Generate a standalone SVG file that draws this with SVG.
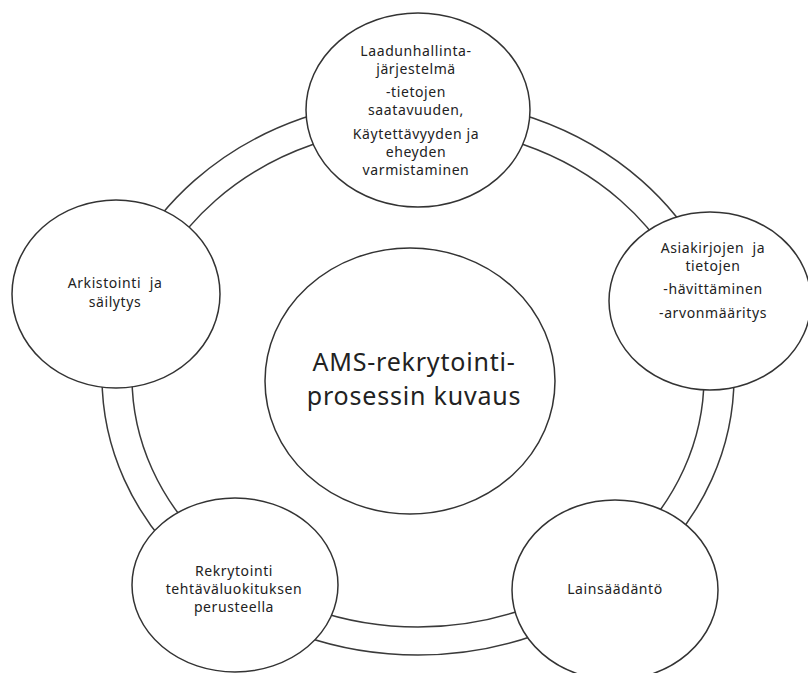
<svg xmlns="http://www.w3.org/2000/svg" width="808" height="673" viewBox="0 0 808 673">
  <style>
    .ring { fill: none; stroke: #3a3a3a; stroke-width: 1.5; }
    .node { fill: #ffffff; stroke: #333333; stroke-width: 1.5; }
    .lbl { font-family: "Noto Sans", "Open Sans", sans-serif; font-size: 14px; letter-spacing: 0.6px; fill: #222222; text-anchor: middle; white-space: pre; }
    .title { font-family: "Noto Sans", "Open Sans", sans-serif; font-size: 25px; letter-spacing: 0.8px; fill: #222222; text-anchor: middle; }
  </style>
  <rect width="808" height="673" fill="#ffffff"/>

  <!-- double ring linking the surrounding topics -->
  <g id="connectors">
    <ellipse class="ring" cx="418" cy="377" rx="316" ry="278"/>
    <ellipse class="ring" cx="418" cy="377" rx="286" ry="250"/>
  </g>

  <g id="node-center">
    <ellipse class="node" cx="410" cy="381" rx="145" ry="133"/>
    <text class="title" x="414" y="371">AMS-rekrytointi-</text>
    <text class="title" x="414" y="405">prosessin kuvaus</text>
  </g>

  <g id="node-laatu">
    <ellipse class="node" cx="418" cy="110" rx="112" ry="97"/>
    <text class="lbl" x="416" y="56">Laadunhallinta-</text>
    <text class="lbl" x="416" y="74">järjestelmä</text>
    <text class="lbl" x="416" y="97">-tietojen</text>
    <text class="lbl" x="416" y="115">saatavuuden,</text>
    <text class="lbl" x="416" y="139">Käytettävyyden ja</text>
    <text class="lbl" x="416" y="157">eheyden</text>
    <text class="lbl" x="416" y="175">varmistaminen</text>
  </g>

  <g id="node-asiakirjat">
    <ellipse class="node" cx="710" cy="301" rx="101" ry="89"/>
    <text class="lbl" x="713" y="253">Asiakirjojen  ja</text>
    <text class="lbl" x="713" y="271">tietojen</text>
    <text class="lbl" x="713" y="294">-hävittäminen</text>
    <text class="lbl" x="713" y="318">-arvonmääritys</text>
  </g>

  <g id="node-lainsaadanto">
    <ellipse class="node" cx="615" cy="590" rx="103" ry="90"/>
    <text class="lbl" x="615" y="594">Lainsäädäntö</text>
  </g>

  <g id="node-rekrytointi">
    <ellipse class="node" cx="235" cy="585" rx="103" ry="87"/>
    <text class="lbl" x="234" y="576">Rekrytointi</text>
    <text class="lbl" x="234" y="594">tehtäväluokituksen</text>
    <text class="lbl" x="234" y="612">perusteella</text>
  </g>

  <g id="node-arkistointi">
    <ellipse class="node" cx="116" cy="294" rx="104" ry="94"/>
    <text class="lbl" x="115" y="288">Arkistointi  ja</text>
    <text class="lbl" x="115" y="307">säilytys</text>
  </g>
</svg>
